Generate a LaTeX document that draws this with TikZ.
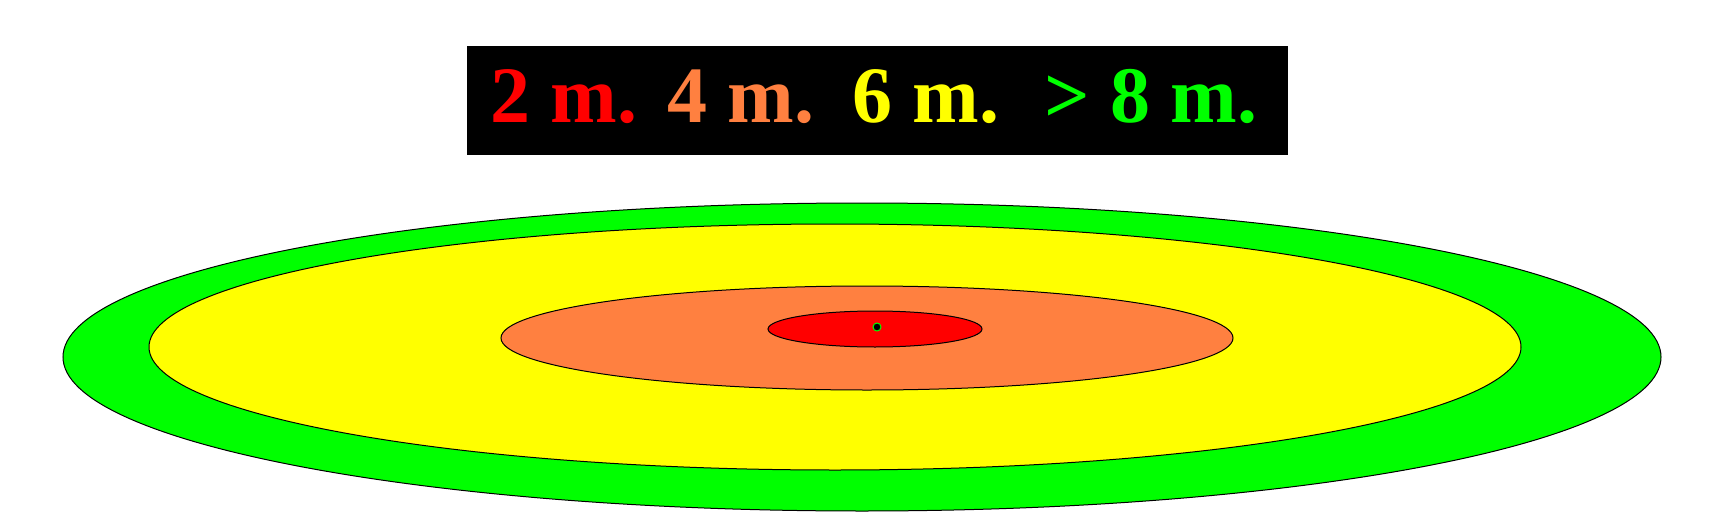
\documentclass[tikz,border=0pt]{standalone}
\usepackage{fontspec}
\setmainfont{Liberation Serif}
\definecolor{zred}{HTML}{FF0000}
\definecolor{zorange}{HTML}{FF8040}
\definecolor{zyellow}{HTML}{FFFF00}
\definecolor{zgreen}{HTML}{00FF00}
\begin{document}
\begin{tikzpicture}[x=1pt,y=-1pt,
  zone/.style={draw=black,line width=1pt},
  lbl/.style={inner sep=0pt,anchor=base,font=\fontsize{80}{80}\selectfont\bfseries}]
\useasboundingbox[fill=white] (0,0) rectangle (1714,530);
% legend box
\fill[black] (467,46) rectangle (1288,155);
\node[lbl,text=zred]    (l2) at (564,122) {2 m.};
\node[lbl,text=zorange] (l4) at (741,122) {4 m.};
\node[lbl,text=zyellow] (l6) at (926,122) {6 m.};
\node[lbl,text=zgreen]  (l8) at (1151,122) {> 8 m.};
% zones
\draw[zone,fill=zgreen]  (862,357) ellipse [x radius=799, y radius=154];
\draw[zone,fill=zyellow] (835,347) ellipse [x radius=686, y radius=123];
\draw[zone,fill=zorange] (867,338) ellipse [x radius=366, y radius=52];
\draw[zone,fill=zred]    (875,329) ellipse [x radius=107, y radius=18];
\draw[fill=black,draw=zgreen,line width=1pt] (877,327) circle [radius=4];
\end{tikzpicture}
\end{document}
